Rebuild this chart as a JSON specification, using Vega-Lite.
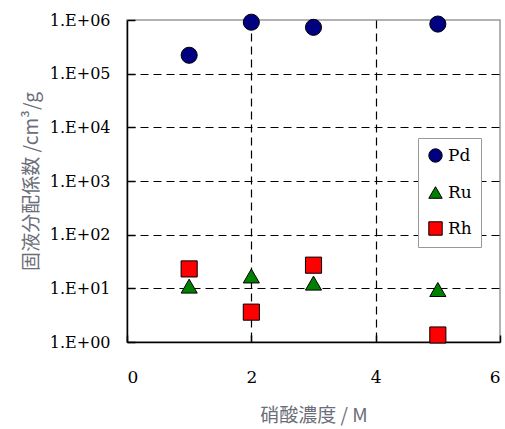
{
  "$schema": "https://vega.github.io/schema/vega-lite/v6.json",
  "autosize": "none",
  "width": 373,
  "height": 322,
  "padding": {"left": 127, "top": 20, "right": 5, "bottom": 87},
  "background": "white",
  "config": {
    "view": {"stroke": "#999999", "strokeWidth": 1.5},
    "axis": {
      "labelColor": "#000000",
      "titleFont": "Noto Sans CJK JP",
      "titleFontSize": 19,
      "titleFontWeight": "normal",
      "titleColor": "#6b6e78",
      "domainColor": "#000000",
      "domainWidth": 1.5,
      "tickColor": "#000000",
      "tickWidth": 1.5,
      "gridColor": "#000000",
      "gridDash": [8, 5],
      "gridWidth": 1.2
    }
  },
  "data": {
    "values": [
      {"conc": 1, "element": "Pd", "kd": 220000},
      {"conc": 2, "element": "Pd", "kd": 910000},
      {"conc": 3, "element": "Pd", "kd": 730000},
      {"conc": 5, "element": "Pd", "kd": 840000},
      {"conc": 1, "element": "Ru", "kd": 11},
      {"conc": 2, "element": "Ru", "kd": 17},
      {"conc": 3, "element": "Ru", "kd": 12.5},
      {"conc": 5, "element": "Ru", "kd": 9.5},
      {"conc": 1, "element": "Rh", "kd": 23},
      {"conc": 2, "element": "Rh", "kd": 3.6},
      {"conc": 3, "element": "Rh", "kd": 27},
      {"conc": 5, "element": "Rh", "kd": 1.35}
    ]
  },
  "mark": {"type": "point", "filled": true, "stroke": "#000000", "strokeWidth": 1, "opacity": 1, "size": 260, "clip": false},
  "encoding": {
    "x": {
      "field": "conc",
      "type": "quantitative",
      "scale": {"domain": [0, 6], "nice": false, "zero": true},
      "axis": {
        "values": [0, 2, 4, 6],
        "labelFont": "DejaVu Serif",
        "labelFontSize": 17,
        "gridOpacity": {"condition": {"test": "datum.value == 0 || datum.value == 6", "value": 0}, "value": 1},
        "tickSize": -7,
        "labelPadding": 34,
        "title": "硝酸濃度 / M",
        "titlePadding": 21
      }
    },
    "y": {
      "field": "kd",
      "type": "quantitative",
      "scale": {"type": "log", "domain": [1, 1000000], "nice": false},
      "axis": {
        "values": [1, 10, 100, 1000, 10000, 100000, 1000000],
        "labelFont": "DejaVu Serif",
        "labelFontSize": 16,
        "gridOpacity": {"condition": {"test": "datum.value == 1 || datum.value == 1000000", "value": 0}, "value": 1},
        "labelExpr": "'1.E+0' + format(log(datum.value) / log(10), '.0f')",
        "tickSize": -8,
        "labelPadding": 25,
        "title": "固液分配係数 /cm³/g",
        "titlePadding": 8
      }
    },
    "color": {
      "field": "element",
      "type": "nominal",
      "scale": {"domain": ["Pd", "Ru", "Rh"], "range": ["#000080", "#008000", "#ff0000"]},
      "legend": {
        "orient": "none",
        "legendX": 291,
        "legendY": 118,
        "title": null,
        "strokeColor": "#999999",
        "fillColor": "#ffffff",
        "padding": 9,
        "rowPadding": 18,
        "symbolSize": 180,
        "symbolStrokeColor": "#000000",
        "symbolStrokeWidth": 1,
        "labelFont": "DejaVu Serif",
        "labelFontSize": 17,
        "labelColor": "#000000",
        "labelOffset": 4
      }
    },
    "shape": {
      "field": "element",
      "type": "nominal",
      "scale": {"domain": ["Pd", "Ru", "Rh"], "range": ["circle", "triangle-up", "square"]}
    }
  }
}
